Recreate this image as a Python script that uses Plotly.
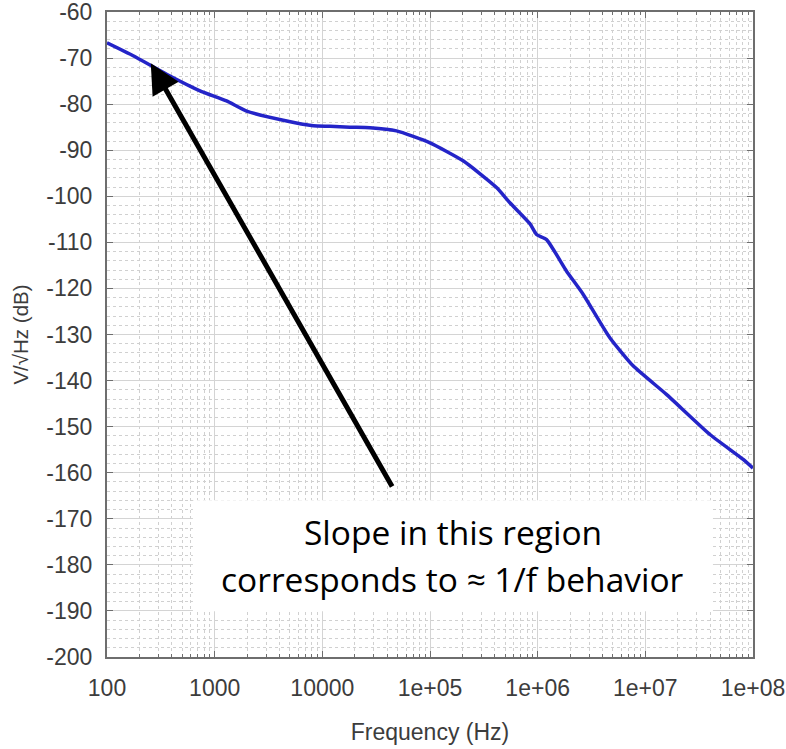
import numpy as np
import plotly.graph_objects as go

# Data
freq_hz = [100, 175, 358, 730, 1290, 1980, 4330, 8240, 11760, 18000, 27700,
           48900, 1.0e5, 2.03e5, 4.15e5, 5.52e5, 8.5e5, 9.77e5, 1.21e6,
           1.85e6, 2.65e6, 4.68e6, 7.7e6, 1.57e7, 3.98e7, 8.1e7, 1.0e8]
noise_db = [-66.7, -69.5, -73.5, -77.1, -79.3, -81.5, -83.5, -84.7, -84.8,
            -85.0, -85.1, -85.8, -88.4, -92.3, -98.1, -101.4, -106.0, -108.3,
            -109.4, -116.2, -121.3, -130.7, -136.8, -143.0, -151.7, -157.1,
            -159.0]

x_tick_vals = [1e2, 1e3, 1e4, 1e5, 1e6, 1e7, 1e8]
x_tick_text = ["100", "1000", "10000", "1e+05", "1e+06", "1e+07", "1e+08"]
y_tick_vals = list(range(-200, -59, 10))
y_tick_text = [str(v) for v in y_tick_vals]

minor_x = [m * 10 ** k for k in range(2, 8) for m in range(2, 10)]

fig = go.Figure()
fig.add_trace(go.Scatter(
    x=freq_hz, y=noise_db, mode="lines",
    line=dict(color="#2424c8", width=3.5, shape="spline", smoothing=0.5),
    showlegend=False,
))

tick_font = dict(family="Liberation Sans, Arial, sans-serif", size=23, color="#3c3c3c")
xtitle_font = dict(family="Liberation Sans, Arial, sans-serif", size=23, color="#3c3c3c")
ytitle_font = dict(family="Liberation Sans, Arial, sans-serif", size=20.5, color="#3c3c3c")

fig.update_xaxes(
    type="log", range=[2, 8], automargin=False, ticklabeloverflow="allow",
    tickmode="array", tickvals=x_tick_vals, ticktext=x_tick_text,
    ticks="inside", ticklen=6, tickcolor="#6e6e6e", tickwidth=1,
    showline=True, linecolor="#6e6e6e", linewidth=2, mirror="ticks",
    showgrid=True, gridcolor="#d4d4d4", gridwidth=1,
    zeroline=False, tickfont=tick_font, ticklabelstandoff=9,
    title=dict(text="Frequency (Hz)", font=xtitle_font, standoff=24),
    minor=dict(tickmode="array", tickvals=minor_x, ticks="inside", ticklen=3,
               tickcolor="#6e6e6e", showgrid=True, gridcolor="#d0d0d0",
               griddash="dot", gridwidth=1),
)
fig.update_yaxes(
    range=[-200, -60], automargin=False, ticklabeloverflow="allow",
    tickmode="array", tickvals=y_tick_vals, ticktext=y_tick_text,
    ticks="inside", ticklen=6, tickcolor="#6e6e6e", tickwidth=1,
    showline=True, linecolor="#6e6e6e", linewidth=2, mirror="ticks",
    showgrid=True, gridcolor="#d4d4d4", gridwidth=1,
    zeroline=False, tickfont=tick_font, ticklabelstandoff=8,
    title=dict(text="V/√Hz (dB)", font=ytitle_font, standoff=12),
    minor=dict(dtick=2, ticks="", showgrid=True, gridcolor="#d0d0d0",
               griddash="dot", gridwidth=1),
)

# White text box
fig.add_shape(type="rect", xref="paper", yref="paper",
              x0=0.133, x1=0.938, y0=0.071, y1=0.243,
              fillcolor="white", line=dict(width=0), layer="above")

# Arrow
fig.add_annotation(
    x=np.log10(255), y=-71.1, xref="x", yref="y",
    ax=np.log10(45300), ay=-163.3, axref="x", ayref="y",
    text="", showarrow=True, arrowhead=2, arrowsize=1.2, arrowwidth=5,
    arrowcolor="black", standoff=0,
)

txt_font = dict(family="Open Sans, Lato, sans-serif", size=33.5, color="black")
fig.add_annotation(x=0.535, y=0.155, xref="paper", yref="paper",
                   text="Slope in this region", showarrow=False, font=txt_font)
fig.add_annotation(x=0.535, y=0.082, xref="paper", yref="paper",
                   text="corresponds to ≈ 1/f behavior", showarrow=False, font=txt_font)

fig.update_layout(
    width=786, height=749,
    margin=dict(l=107, r=33, t=12, b=92),
    plot_bgcolor="white", paper_bgcolor="white",
)

fig.write_html("out.html")
